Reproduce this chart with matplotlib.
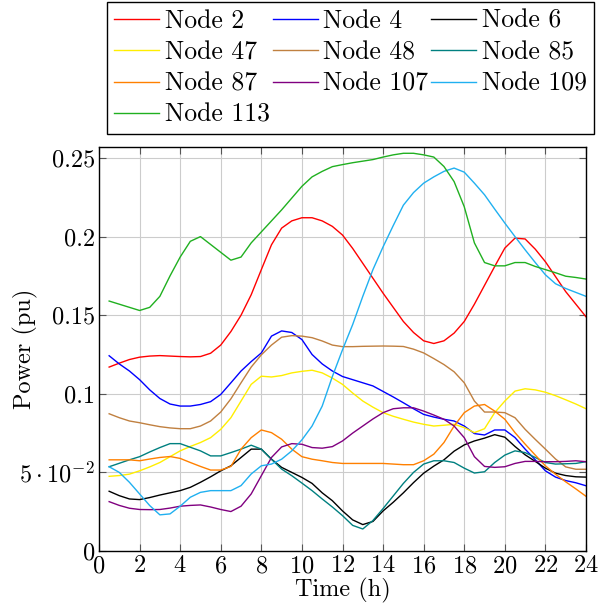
import numpy as np
import matplotlib
matplotlib.use("Agg")
import matplotlib.pyplot as plt

plt.rcParams['font.family'] = ['cmr10', 'DejaVu Serif']
plt.rcParams['mathtext.fontset'] = 'cm'
plt.rcParams['axes.formatter.use_mathtext'] = True

# half-hour samples, 0.5 h .. 24 h
hours = np.arange(1, 49) * 0.5

node2 = [0.117, 0.1195, 0.1218, 0.1233, 0.124, 0.1243, 0.124, 0.1237, 0.1235, 0.1237,
         0.1258, 0.131, 0.1396, 0.150, 0.163, 0.179, 0.1948, 0.2054, 0.210, 0.212,
         0.212, 0.210, 0.2065, 0.201, 0.1925, 0.183, 0.1735, 0.164, 0.155, 0.146,
         0.139, 0.1337, 0.132, 0.1337, 0.1386, 0.146, 0.157, 0.169, 0.181, 0.1927,
         0.199, 0.1985, 0.192, 0.184, 0.1745, 0.165, 0.157, 0.149]
node4 = [0.1242, 0.119, 0.1145, 0.109, 0.1025, 0.097, 0.0935, 0.0922, 0.0922, 0.0932,
         0.095, 0.0996, 0.107, 0.1145, 0.1205, 0.126, 0.1367, 0.140, 0.139, 0.1345,
         0.125, 0.119, 0.1145, 0.111, 0.109, 0.107, 0.105, 0.1015, 0.098, 0.0943,
         0.0905, 0.0869, 0.0852, 0.0838, 0.0827, 0.0795, 0.0747, 0.0738, 0.077, 0.077,
         0.0722, 0.0648, 0.058, 0.051, 0.047, 0.0448, 0.0434, 0.0415]
node6 = [0.038, 0.0352, 0.0331, 0.0327, 0.034, 0.0356, 0.037, 0.0384, 0.0405, 0.0437,
         0.0472, 0.051, 0.0542, 0.0595, 0.0648, 0.0648, 0.0584, 0.0532, 0.050, 0.0468,
         0.043, 0.037, 0.032, 0.0255, 0.0198, 0.0168, 0.0188, 0.0255, 0.031, 0.037,
         0.0435, 0.0495, 0.054, 0.058, 0.0635, 0.0675, 0.070, 0.0718, 0.074, 0.0724,
         0.0665, 0.0612, 0.057, 0.0527, 0.0495, 0.048, 0.0472, 0.047]
node47 = [0.0475, 0.048, 0.0489, 0.051, 0.0535, 0.0563, 0.060, 0.0637, 0.0665, 0.069,
          0.0721, 0.0774, 0.0848, 0.0954, 0.106, 0.1112, 0.1107, 0.1116, 0.1133, 0.1143,
          0.115, 0.1133, 0.110, 0.106, 0.1005, 0.0954, 0.0915, 0.088, 0.0857, 0.0838,
          0.082, 0.0806, 0.0795, 0.080, 0.0806, 0.0785, 0.0753, 0.0778, 0.088, 0.0954,
          0.1017, 0.1032, 0.1025, 0.101, 0.0988, 0.0962, 0.0935, 0.0905]
node48 = [0.0873, 0.0848, 0.0827, 0.0816, 0.0803, 0.0791, 0.0783, 0.0778, 0.0778, 0.0795,
          0.0827, 0.0884, 0.0968, 0.107, 0.117, 0.1248, 0.131, 0.136, 0.137, 0.1367,
          0.1357, 0.1336, 0.131, 0.130, 0.130, 0.1302, 0.1303, 0.1304, 0.1303, 0.1301,
          0.1284, 0.126, 0.1224, 0.1186, 0.114, 0.107, 0.0954, 0.0884, 0.0884, 0.088,
          0.0848, 0.0774, 0.071, 0.0648, 0.0585, 0.0535, 0.052, 0.052]
node85 = [0.0536, 0.0558, 0.058, 0.060, 0.063, 0.0658, 0.0683, 0.0683, 0.066, 0.0637,
          0.0605, 0.0605, 0.0626, 0.0648, 0.0673, 0.0648, 0.0584, 0.0521, 0.0479, 0.0432,
          0.0384, 0.0331, 0.028, 0.0225, 0.0163, 0.014, 0.0194, 0.027, 0.035, 0.043,
          0.050, 0.0553, 0.0574, 0.0574, 0.0563, 0.0527, 0.0496, 0.0504, 0.0563, 0.061,
          0.0637, 0.0626, 0.0595, 0.0563, 0.0553, 0.0555, 0.0557, 0.0568]
node87 = [0.058, 0.058, 0.058, 0.0574, 0.0585, 0.0595, 0.0601, 0.0589, 0.0563, 0.0538,
          0.0515, 0.0515, 0.0538, 0.0648, 0.0721, 0.077, 0.0753, 0.0711, 0.0648, 0.060,
          0.0584, 0.0574, 0.0563, 0.0557, 0.0557, 0.0557, 0.0557, 0.0557, 0.0553, 0.0549,
          0.0549, 0.0574, 0.0616, 0.069, 0.0795, 0.088, 0.0922, 0.0932, 0.089, 0.0838,
          0.0753, 0.068, 0.061, 0.0542, 0.0488, 0.044, 0.0395, 0.0348]
node107 = [0.0314, 0.029, 0.0272, 0.0264, 0.0263, 0.0264, 0.0273, 0.0285, 0.029, 0.0293,
           0.028, 0.0264, 0.0251, 0.0285, 0.0363, 0.0479, 0.0595, 0.0662, 0.0683, 0.0679,
           0.0658, 0.0654, 0.0664, 0.070, 0.075, 0.0795, 0.084, 0.088, 0.0905, 0.0911,
           0.0911, 0.089, 0.0865, 0.0838, 0.0795, 0.0721, 0.060, 0.0538, 0.0532, 0.0536,
           0.0557, 0.057, 0.057, 0.0568, 0.0568, 0.057, 0.0574, 0.0568]
node109 = [0.0536, 0.050, 0.0437, 0.0363, 0.0289, 0.023, 0.0236, 0.0285, 0.0342, 0.0373,
           0.0384, 0.0384, 0.0384, 0.0416, 0.049, 0.0542, 0.0553, 0.0584, 0.0637, 0.0707,
           0.0795, 0.0922, 0.111, 0.128, 0.144, 0.162, 0.179, 0.1935, 0.207, 0.220,
           0.228, 0.234, 0.238, 0.2415, 0.2436, 0.241, 0.234, 0.2266, 0.2175, 0.2086,
           0.200, 0.1916, 0.1835, 0.1757, 0.170, 0.167, 0.1645, 0.162]
node113 = [0.159, 0.157, 0.155, 0.153, 0.155, 0.162, 0.175, 0.187, 0.197, 0.200,
           0.195, 0.190, 0.185, 0.187, 0.196, 0.203, 0.210, 0.217, 0.2245, 0.232,
           0.238, 0.2415, 0.2445, 0.2458, 0.247, 0.248, 0.249, 0.2506, 0.252, 0.253,
           0.253, 0.252, 0.2506, 0.2446, 0.235, 0.219, 0.196, 0.1835, 0.1814, 0.1814,
           0.1835, 0.1835, 0.181, 0.179, 0.177, 0.1748, 0.174, 0.173]

series = [("Node 2", node2, "#ff0000"),
          ("Node 4", node4, "#0000ff"),
          ("Node 6", node6, "#000000"),
          ("Node 47", node47, "#ffee00"),
          ("Node 48", node48, "#c08040"),
          ("Node 85", node85, "#008080"),
          ("Node 87", node87, "#ff8000"),
          ("Node 107", node107, "#800080"),
          ("Node 109", node109, "#20b0f0"),
          ("Node 113", node113, "#20b020")]

xticks = list(range(0, 25, 2))
yticks = [0, 0.05, 0.1, 0.15, 0.2, 0.25]
ylabels = ["0", r"$5\cdot10^{-2}$", "0.1", "0.15", "0.2", "0.25"]
fs = 17.5

fig = plt.figure(figsize=(6.10, 6.06), dpi=100)
ax = fig.add_axes([99/610, 1 - 551/606, 487/610, 404/606])

lines = []
for name, vals, col in series:
    ln, = ax.plot(hours, vals, color=col, lw=1.0, label=name)
    lines.append(ln)

ax.set_xlim(0, 24)
ax.set_ylim(0, 0.257)
ax.set_xticks(xticks)
ax.set_yticks(yticks)
ax.set_yticklabels(ylabels)
ax.grid(True, color="#cccccc", lw=0.8)
ax.set_axisbelow(True)
ax.tick_params(direction="in", top=True, right=True, length=5, labelsize=fs,
               color="#555555", pad=3)
for sp in ax.spines.values():
    sp.set_linewidth(1.0)
ax.set_xlabel("Time (h)", fontsize=fs)
ax.set_ylabel("Power (pu)", fontsize=fs)
ax.xaxis.set_label_coords(0.5, -0.066)
ax.yaxis.set_label_coords(-0.125, 0.5)

# legend is filled row by row, matplotlib fills columns, so reorder
order = [0, 3, 6, 9, 1, 4, 7, 2, 5, 8]
leg = fig.legend([lines[i] for i in order], [series[i][0] for i in order],
                 loc="upper left", ncol=3,
                 bbox_to_anchor=(107/610, 1 - 2/606),
                 fontsize=18.5, frameon=True, fancybox=False, edgecolor="black",
                 framealpha=1, handlelength=1.75, handletextpad=0.22, columnspacing=0.12,
                 borderaxespad=0, labelspacing=0.3, borderpad=0.27)
leg.get_frame().set_linewidth(1.0)

fig.savefig("out.png", dpi=100)
